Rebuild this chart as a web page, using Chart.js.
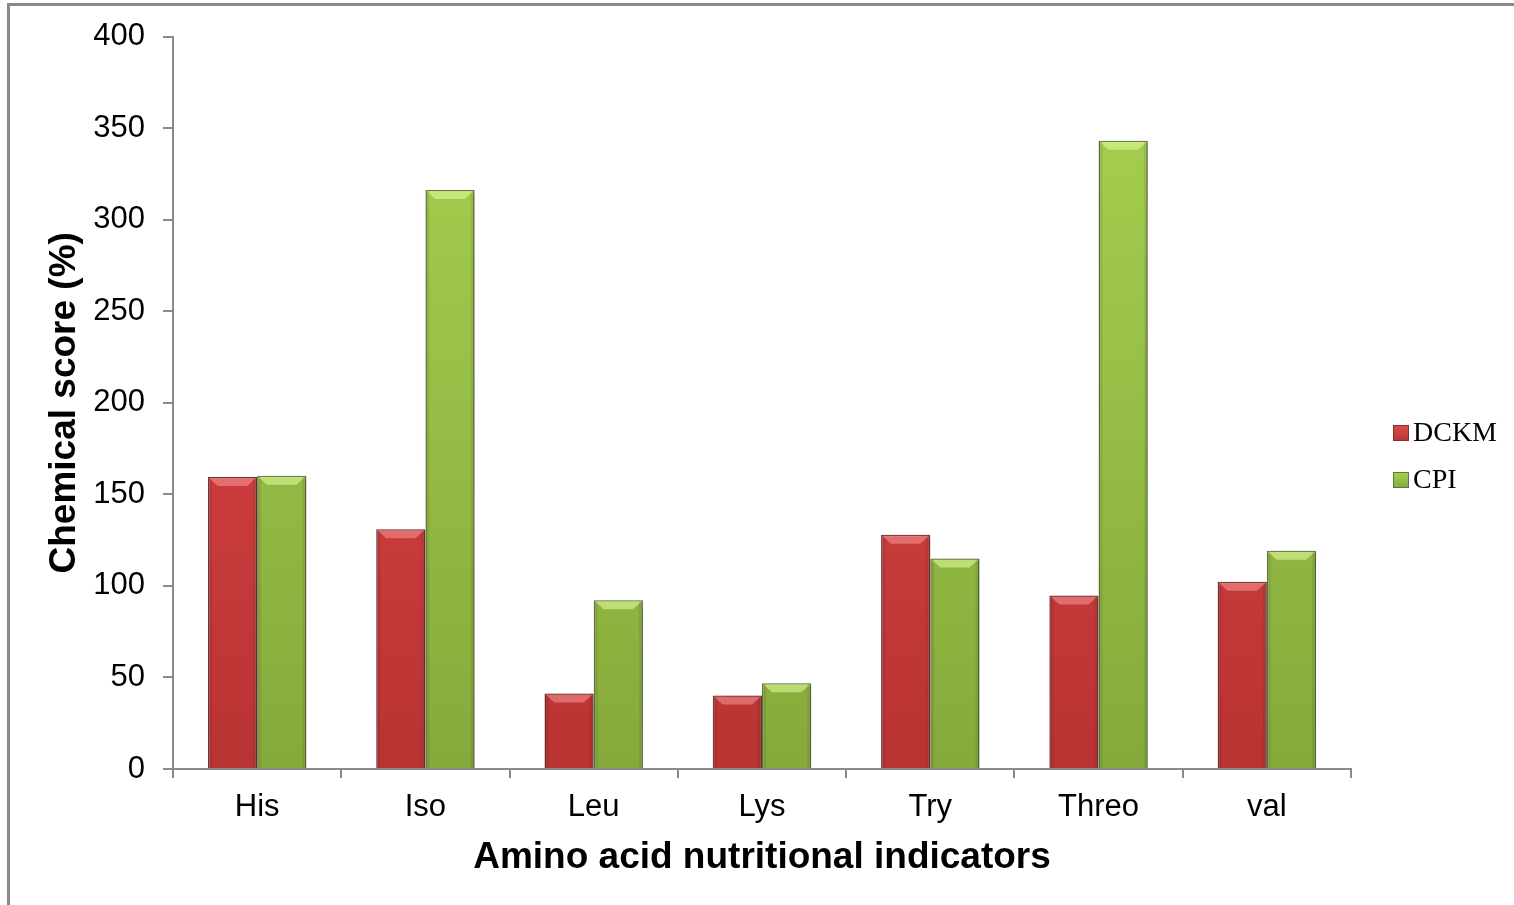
<!DOCTYPE html>
<html>
<head>
<meta charset="utf-8">
<script src="https://cdn.jsdelivr.net/npm/chart.js@4"></script>
<style>
  html, body { margin: 0; padding: 0; background: #fff; overflow: hidden; }
  #frame { position: absolute; left: 7px; top: 3px; width: 1600px; height: 1000px;
           border-left: 3px solid #8a8a8a; border-top: 3px solid #8a8a8a; }
  #chart { position: absolute; left: 0; top: 0; }
</style>
</head>
<body>
<div id="frame"></div>
<canvas id="chart" width="1514" height="905"></canvas>
<script>
// Amino acid categories and chemical scores (%)
const categories = ['His', 'Iso', 'Leu', 'Lys', 'Try', 'Threo', 'val'];
const dckmScores = [159.5, 131, 41.3, 40.2, 128, 94.8, 102.3];
const cpiScores  = [160.2, 316.2, 92.1, 46.8, 115, 343.1, 119.2];
const yTicks = [0, 50, 100, 150, 200, 250, 300, 350, 400];

const seriesNames = ['DCKM', 'CPI'];
const palettes = [
  { top: '#e34a4a', bottom: '#b93333', edge: '#7a3434', light: 'rgba(255,160,160,0.5)', box: '#c23434' },
  { top: '#a9d251', bottom: '#85aa3b', edge: '#61783a', light: 'rgba(230,255,160,0.55)', box: '#8db33f' }
];

function verticalGradient(ctx, area, pal) {
  const g = ctx.createLinearGradient(0, area.top, 0, area.bottom);
  g.addColorStop(0, pal.top);
  g.addColorStop(1, pal.bottom);
  return g;
}

// Soft drop shadow under the bars
const barShadow = {
  id: 'barShadow',
  beforeDatasetsDraw(chart) {
    const ctx = chart.ctx;
    ctx.save();
    ctx.shadowColor = 'rgba(0,0,0,0.25)';
    ctx.shadowBlur = 5;
    ctx.shadowOffsetX = 2;
    ctx.shadowOffsetY = 1;
  },
  afterDatasetsDraw(chart) {
    chart.ctx.restore();
  }
};

// Bevelled top edge on each bar
const barBevel = {
  id: 'barBevel',
  afterDatasetsDraw(chart) {
    const ctx = chart.ctx;
    chart.data.datasets.forEach((ds, di) => {
      const meta = chart.getDatasetMeta(di);
      const pal = palettes[di];
      meta.data.forEach(bar => {
        const { x, y, width, base } = bar.getProps(['x', 'y', 'width', 'base'], true);
        const l = x - width / 2 + 1, r = x + width / 2 - 1;
        const h = Math.min(9, (base - y) / 2);
        ctx.save();
        ctx.fillStyle = pal.light;
        ctx.beginPath();
        ctx.moveTo(l, y + 1);
        ctx.lineTo(r, y + 1);
        ctx.lineTo(r - 9, y + h);
        ctx.lineTo(l + 9, y + h);
        ctx.closePath();
        ctx.fill();
        ctx.fillStyle = 'rgba(0,0,0,0.08)';
        ctx.fillRect(l, y + 1, 3, base - y - 1);
        ctx.fillRect(r - 3, y + 1, 3, base - y - 1);
        ctx.restore();
      });
    });
  }
};

// Legend drawn at the right of the plot
const sideLegend = {
  id: 'sideLegend',
  afterDraw(chart) {
    const ctx = chart.ctx;
    const x0 = 1393, ys = [433, 480], box = 16;
    ctx.save();
    ctx.font = '28px "Liberation Serif", "DejaVu Serif", serif';
    ctx.textBaseline = 'middle';
    seriesNames.forEach((name, i) => {
      const pal = palettes[i];
      const g = ctx.createLinearGradient(0, ys[i] - box / 2, 0, ys[i] + box / 2);
      g.addColorStop(0, pal.top);
      g.addColorStop(1, pal.bottom);
      ctx.fillStyle = g;
      ctx.fillRect(x0, ys[i] - box / 2, box, box);
      ctx.strokeStyle = pal.edge;
      ctx.lineWidth = 1;
      ctx.strokeRect(x0 + 0.5, ys[i] - box / 2 + 0.5, box - 1, box - 1);
      ctx.fillStyle = '#000';
      ctx.fillText(name, x0 + box + 4, ys[i] + 1);
    });
    ctx.restore();
  }
};

const ctx = document.getElementById('chart').getContext('2d');
new Chart(ctx, {
  type: 'bar',
  data: {
    labels: categories,
    datasets: [
      { label: seriesNames[0], data: dckmScores },
      { label: seriesNames[1], data: cpiScores }
    ].map((d, i) => Object.assign(d, {
      backgroundColor: (c) => {
        const area = c.chart.chartArea;
        if (!area) return palettes[i].box;
        return verticalGradient(c.chart.ctx, area, palettes[i]);
      },
      borderColor: palettes[i].edge,
      borderWidth: 1.5,
      borderSkipped: 'bottom',
      categoryPercentage: 0.585,
      barPercentage: 1.0
    }))
  },
  options: {
    responsive: false,
    animation: false,
    layout: { padding: { top: 36, left: 40, right: 163, bottom: 25 } },
    plugins: {
      legend: { display: false },
      tooltip: { enabled: false }
    },
    scales: {
      x: {
        grid: { display: true, offset: true, drawOnChartArea: false, drawTicks: true,
                tickLength: 9, color: '#8a8a8a', lineWidth: 2 },
        border: { display: true, color: '#8a8a8a', width: 2 },
        ticks: { color: '#000', padding: 11,
                 font: { family: '"Liberation Sans", Arial, sans-serif', size: 31 } },
        title: { display: true, text: 'Amino acid nutritional indicators', color: '#000',
                 padding: { top: 0, bottom: 0 },
                 font: { family: '"Liberation Sans", Arial, sans-serif', size: 37, weight: 'bold' } },
        afterFit(scale) { scale.height = 111; }
      },
      y: {
        min: 0, max: 400,
        afterBuildTicks(scale) { scale.ticks = yTicks.map(v => ({ value: v })); },
        grid: { display: true, drawOnChartArea: false, drawTicks: true,
                tickLength: 10, color: '#8a8a8a', lineWidth: 2 },
        border: { display: true, color: '#8a8a8a', width: 2 },
        ticks: { color: '#000', padding: 18,
                 font: { family: '"Liberation Sans", Arial, sans-serif', size: 31 } },
        title: { display: true, text: 'Chemical score (%)', color: '#000',
                 padding: { top: 3, bottom: 0 },
                 font: { family: '"Liberation Sans", Arial, sans-serif', size: 37, weight: 'bold' } },
        afterFit(scale) { scale.width = 133; }
      }
    }
  },
  plugins: [barShadow, barBevel, sideLegend]
});
</script>
</body>
</html>
